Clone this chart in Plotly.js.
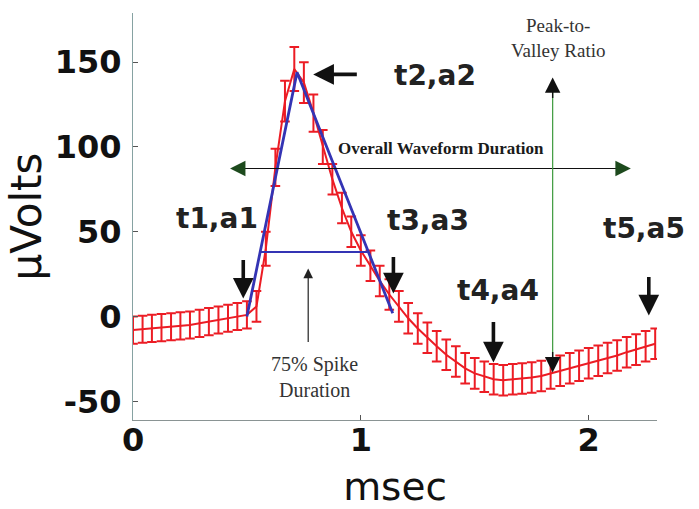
<!DOCTYPE html>
<html>
<head>
<meta charset="utf-8">
<script src="https://cdn.plot.ly/plotly-3.0.1.min.js"></script>
<style>html,body{margin:0;padding:0;background:#fff;}#chart{width:699px;height:509px;}</style>
</head>
<body>
<div id="chart"></div>
<script>
// time samples (msec)
var timeMs = [0, 0.042, 0.083, 0.125, 0.167, 0.208, 0.25, 0.292, 0.333, 0.375, 0.417, 0.458,
  0.5, 0.542, 0.583, 0.625, 0.667, 0.708, 0.75, 0.792, 0.833, 0.875, 0.917, 0.958,
  1.0, 1.042, 1.083, 1.125, 1.167, 1.208, 1.25, 1.292, 1.333, 1.375, 1.417, 1.458,
  1.5, 1.542, 1.583, 1.625, 1.667, 1.708, 1.75, 1.792, 1.833, 1.875, 1.917, 1.958,
  2.0, 2.042, 2.083, 2.125, 2.167, 2.208, 2.25, 2.292];
// mean waveform (µV)
var meanUv = [-8, -7.5, -7, -6.5, -6, -5.5, -5, -4, -3, -2, -1, 0,
  1, 6, 40, 88, 127, 146, 138, 120, 100, 81, 64, 50,
  39, 30, 21, 13, 6, -1, -7, -12.5, -17.5, -22.5, -26.5, -30.5,
  -33.5, -35.5, -37, -37.5, -37, -36.5, -36, -35, -33.5, -32, -30.5, -29,
  -27.5, -26, -24.5, -23, -21, -19.5, -17.5, -16];
// error (µV)
var errUv = [8, 8, 8, 8, 8, 8, 8, 8, 8, 8, 8, 8,
  8, 9, 10, 11, 12, 13, 12, 11, 10, 9, 9, 9,
  9, 9, 9, 9, 9, 9, 9, 9, 9, 9, 9, 9,
  9, 9, 9, 9, 9, 9, 9, 9, 9, 9, 9, 9,
  9, 9, 9, 9, 9, 9, 9, 9];
// fitted spike triangle (t1,a1) -> (t2,a2) -> (t3,a3)
var spikeT = [0.5, 0.72, 1.14];
var spikeA = [0, 144, 2];
// 75% spike duration line
var halfT = [0.558, 1.03];
var halfA = [38, 38];
var xTicks = [0, 1, 2];
var yTicks = [-50, 0, 50, 100, 150];

var red = '#ec1c24';
var blue = '#3434b4';

var traces = [
  {x: timeMs, y: meanUv, type: 'scatter', mode: 'lines',
   line: {color: red, width: 2},
   error_y: {type: 'data', array: errUv, visible: true, color: red, thickness: 2, width: 4.8},
   hoverinfo: 'skip', showlegend: false},
  {x: spikeT, y: spikeA, type: 'scatter', mode: 'lines',
   line: {color: blue, width: 2.8}, showlegend: false, hoverinfo: 'skip'},
  {x: halfT, y: halfA, type: 'scatter', mode: 'lines',
   line: {color: blue, width: 2}, showlegend: false, hoverinfo: 'skip'}
];

var bigFont = {family: 'DejaVu Sans', size: 28, color: '#222', weight: 'bold'};
var serif = {family: 'Liberation Serif', size: 19, color: '#333'};

function blackArrow(x, y, ax, ay) {
  return {x: x, y: y, ax: ax, ay: ay, xref: 'x', yref: 'y', axref: 'x', ayref: 'y',
    text: '', showarrow: true, arrowhead: 2, arrowsize: 1.15, arrowwidth: 3.6, arrowcolor: '#111'};
}
function headArrow(x, y, ax, ay, col) {
  return {x: x, y: y, ax: ax, ay: ay, xref: 'x', yref: 'y', axref: 'x', ayref: 'y',
    text: '', showarrow: true, arrowhead: 2, arrowsize: 2.2, arrowwidth: 1.4, arrowcolor: col};
}

var annotations = [
  {x: 0.369, y: 57.8, text: 't1,a1', showarrow: false, font: bigFont},
  {x: 1.327, y: 142.2, text: 't2,a2', showarrow: false, font: bigFont},
  {x: 1.297, y: 56.6, text: 't3,a3', showarrow: false, font: bigFont},
  {x: 1.60, y: 15.3, text: 't4,a4', showarrow: false, font: bigFont},
  {x: 2.242, y: 51.9, text: 't5,a5', showarrow: false, font: bigFont},
  blackArrow(0.484, 10.6, 0.484, 34.2),
  blackArrow(1.143, 13.6, 1.143, 36),
  blackArrow(1.582, -27.1, 1.582, -2.4),
  blackArrow(2.264, 0.6, 2.264, 24.2),
  blackArrow(0.791, 142.8, 0.989, 142.8),
  {x: 1.354, y: 99, text: 'Overall Waveform Duration', showarrow: false,
   font: {family: 'Liberation Serif', size: 17, color: '#1a1a1a', weight: 'bold'}},
  headArrow(0.426, 87.3, 0.49, 87.3, '#1d4a1d'),
  headArrow(2.185, 87.3, 2.12, 87.3, '#1d4a1d'),
  {x: 1.864, y: 164.3, text: 'Peak-to-<br>Valley Ratio', showarrow: false, font: serif},
  headArrow(1.842, 141, 1.842, 128, '#111'),
  headArrow(1.842, -33, 1.842, -20, '#111'),
  {x: 0.796, y: -35.4, text: '75% Spike<br>Duration', showarrow: false,
   font: {family: 'Liberation Serif', size: 20, color: '#333'}},
  {x: 0.769, y: 28.3, ax: 0.769, ay: -15.9, xref: 'x', yref: 'y', axref: 'x', ayref: 'y',
   text: '', showarrow: true, arrowhead: 2, arrowsize: 1.6, arrowwidth: 1.2, arrowcolor: '#222'}
];

var shapes = [
  {type: 'line', xref: 'x', yref: 'y', x0: 0.44, x1: 2.17, y0: 87.3, y1: 87.3,
   line: {color: '#111', width: 1.2}, layer: 'above'},
  {type: 'line', xref: 'x', yref: 'y', x0: 1.842, x1: 1.842, y0: -30, y1: 138,
   line: {color: '#3c9a3c', width: 1.2}, layer: 'above'}
];

var axisCommon = {
  showgrid: false, zeroline: false, showline: true, mirror: false,
  ticks: 'inside', ticklen: 5, tickwidth: 1,
  tickfont: {family: 'DejaVu Sans', size: 32, color: '#111', weight: 'bold'}
};

var layout = {
  width: 699, height: 509,
  margin: {l: 133, r: 42, t: 13, b: 89, pad: 0},
  paper_bgcolor: '#fff', plot_bgcolor: '#fff',
  showlegend: false,
  xaxis: Object.assign({}, axisCommon, {
    range: [0, 2.3], tickvals: xTicks, ticktext: xTicks.map(String),
    linecolor: '#8a9494', tickcolor: '#555', ticklabelstandoff: -8,
    title: {text: 'msec', standoff: 16, font: {family: 'DejaVu Sans', size: 39, color: '#111'}}
  }),
  yaxis: Object.assign({}, axisCommon, {
    range: [-61, 179], tickvals: yTicks, ticktext: yTicks.map(String),
    linecolor: '#86a2a2', tickcolor: '#555', ticklabelstandoff: 4,
    title: {text: 'µVolts', standoff: 0, font: {family: 'DejaVu Sans', size: 42, color: '#111'}}
  }),
  annotations: annotations,
  shapes: shapes
};

Plotly.newPlot('chart', traces, layout, {staticPlot: true, displayModeBar: false});
</script>
</body>
</html>
